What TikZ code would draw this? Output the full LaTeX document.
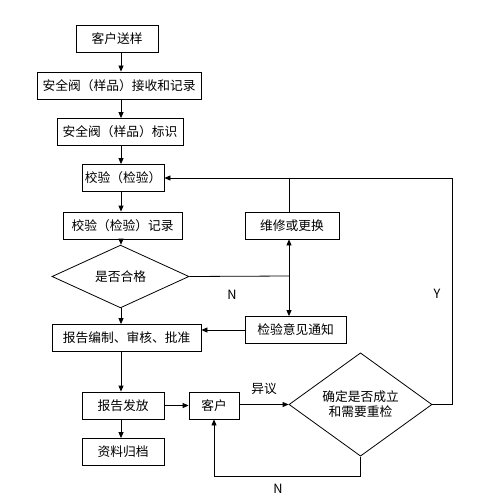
\documentclass[tikz,border=0pt]{standalone}
\usepackage{fontspec}
\setmainfont{Noto Sans CJK SC}
\usetikzlibrary{shapes.geometric, arrows.meta, positioning, calc}

\begin{document}
\begin{tikzpicture}[x=1pt, y=-1pt,
  box/.style={rectangle, draw=black, line width=0.8pt, fill=white, minimum height=27pt, font=\fontsize{12.75}{15}\selectfont, inner sep=1pt},
  dia/.style={diamond, draw=black, line width=0.8pt, fill=white, font=\fontsize{12.75}{15}\selectfont, align=center, inner sep=0pt},
  arr/.style={-{Triangle[length=6pt, width=5pt]}, line width=0.8pt},
  ln/.style={line width=0.8pt},
  lbl/.style={font=\fontsize{12.75}{15}\selectfont},
]
\useasboundingbox (0,0) rectangle (484,503);

\coordinate (col) at (121,0);
\coordinate (jn)  at (289,276);

\node[box, minimum width=82pt]  (send)   at (117,39)    {客户送样};
\node[box, minimum width=164pt] (recv)   at (119,85.5)  {安全阀（样品）接收和记录};
\node[box, minimum width=126pt] (mark)   at (120,132)   {安全阀（样品）标识};
\node[box, minimum width=82pt]  (check)  at (123,178)   {校验（检验）};
\node[box, minimum width=119pt] (rec)    at (122.5,225.5) {校验（检验）记录};
\node[dia, minimum width=137pt, minimum height=37pt] (pass) at (120.5,276.5) {是否合格};
\node[box, minimum width=94pt]  (repair) at (292,225.5) {维修或更换};
\node[box, minimum width=101pt] (notice) at (295.5,330) {检验意见通知};
\node[box, minimum width=149pt] (report) at (126.5,338) {报告编制、审核、批准};
\node[box, minimum width=82pt]  (issue)  at (123,405.5) {报告发放};
\node[box, minimum width=82pt]  (file)   at (123,452)   {资料归档};
\node[box, minimum width=50pt]  (client) at (214,405.5) {客户};
\node[dia, minimum width=143pt, minimum height=83pt] (recheck) at (360.5,404.5) {确定是否成立\\和需要重检};

% main column
\draw[arr] (send.south -| col)   -- (recv.north -| col);
\draw[arr] (recv.south -| col)   -- (mark.north -| col);
\draw[arr] (mark.south -| col)   -- (check.north -| col);
\draw[arr] (check.south -| col)  -- (rec.north -| col);
\draw[arr] (rec.south -| col)    -- (pass.north -| col);
\draw[arr] (pass.south -| col)   -- (report.north -| col);
\draw[arr] (report.south -| col) -- (issue.north -| col);
\draw[arr] (issue.south -| col)  -- (file.north -| col);

% not passed
\draw[ln]  (pass.east) -- (jn);
\draw[arr] (jn) -- (repair.south -| jn);
\draw[arr] (jn) -- (notice.north -| jn);
\draw[ln]  (repair.north -| jn) -- (jn |- check.east);
\draw[arr] (notice.west) -- (report.east |- notice.west);
\node[lbl] (nlbl) at (232,295) {N};

% client
\draw[arr] (issue.east) -- (client.west);
\draw[arr] (client.east |- recheck.west) -- node[lbl, above=6pt] (dis) {异议} (recheck.west);
\draw[arr] (recheck.south) -- ++(0,20) -| (client.south);
\node[lbl] (nlbl2) at (278,489) {N};
\draw[arr] (recheck.east) -- (452,404.5) |- (check.east);
\node[lbl] (ylbl) at (437,294) {Y};
\end{tikzpicture}
\end{document}
